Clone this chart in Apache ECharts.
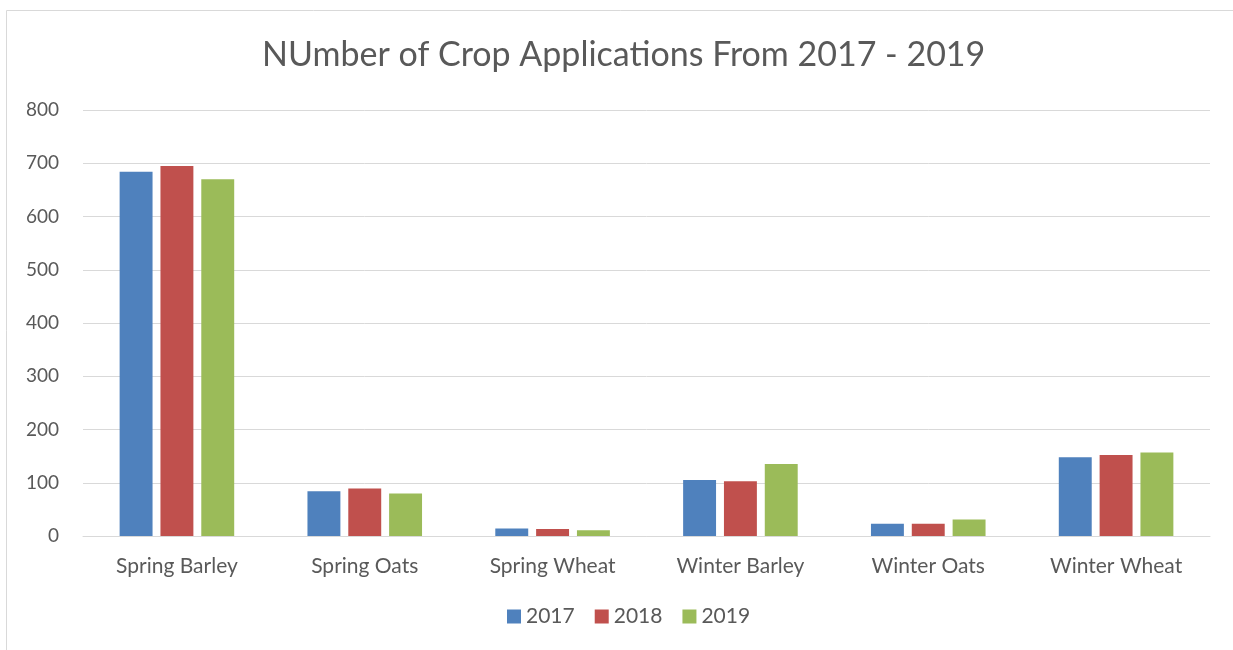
<!DOCTYPE html>
<html><head><meta charset="utf-8">
<script src="https://cdn.jsdelivr.net/npm/echarts@6/dist/echarts.min.js"></script>
<style>html,body{margin:0;padding:0;background:#fff}#c{width:1233px;height:650px}</style>
</head><body><div id="c"></div>
<script>
const categories = ['Spring Barley','Spring Oats','Spring Wheat','Winter Barley','Winter Oats','Winter Wheat'];
const years = ['2017','2018','2019'];
const v2017 = [684, 84, 14, 105, 23, 148];
const v2018 = [695, 89, 13, 103, 23, 152];
const v2019 = [670, 80, 11, 135, 31, 157];
const colors = ['#4F81BD','#C0504D','#9BBB59'];
const font = 'Lato, "Open Sans", sans-serif';
const chart = echarts.init(document.getElementById('c'));
const vals = [v2017, v2018, v2019];
chart.setOption({
  animation:false,
  graphic:[{type:'rect',shape:{x:6.5,y:10.5,width:1240,height:660},style:{fill:'none',stroke:'#d9d9d9',lineWidth:1}}],
  title:{text:'NUmber of Crop Applications From 2017 - 2019',left:257,top:33,
    textStyle:{fontFamily:font,fontSize:34,fontWeight:'normal',color:'#595959'}},
  legend:{bottom:18,left:502,itemWidth:14,itemHeight:14,itemGap:20,icon:'rect',
    textStyle:{fontFamily:font,fontSize:21,color:'#595959'},data:years},
  grid:{left:83,right:23,top:110,bottom:114},
  xAxis:{type:'category',data:categories,
    axisLine:{lineStyle:{color:'#d9d9d9',width:1}},axisTick:{show:false},
    axisLabel:{fontFamily:font,fontSize:21,color:'#595959',margin:20}},
  yAxis:{type:'value',min:0,max:800,interval:100,
    axisLine:{show:false},axisTick:{show:false},
    splitLine:{lineStyle:{color:'#d9d9d9',width:1}},
    axisLabel:{fontFamily:font,fontSize:19,color:'#595959',margin:24}},
  series: years.map((y,i)=>({name:y,type:'bar',data:vals[i],barGap:'24%',barCategoryGap:'39%',
    itemStyle:{color:colors[i]}}))
});
</script></body></html>
